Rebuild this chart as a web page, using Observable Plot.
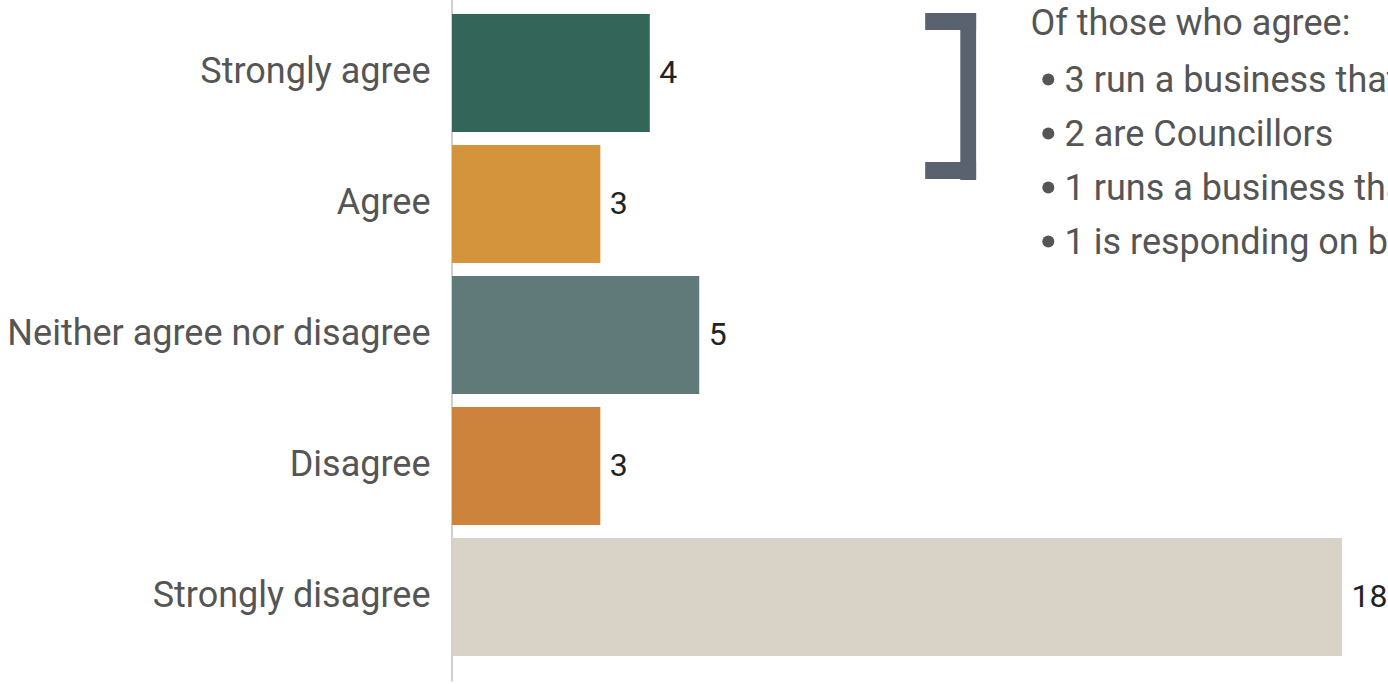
<!DOCTYPE html>
<html>
<head>
<meta charset="utf-8">
<script src="https://cdn.jsdelivr.net/npm/d3@7"></script>
<script src="https://cdn.jsdelivr.net/npm/@observablehq/plot@0.6"></script>
<style>
  html, body { margin: 0; padding: 0; background: #fff; overflow: hidden; }
  #chart svg { display: block; }
</style>
</head>
<body>
<div id="chart"></div>
<script>
// ---- data ----
const categories = ["Strongly agree", "Agree", "Neither agree nor disagree", "Disagree", "Strongly disagree"];
const counts = [4, 3, 5, 3, 18];
const barColors = ["#336658", "#d3943c", "#5f7a78", "#cd833c", "#d9d2c6"];
const noteTitle = "Of those who agree:";
const noteItems = [
  "3 run a business that",
  "2 are Councillors",
  "1 runs a business that",
  "1 is responding on behalf"
];
// annotation anchors, in data units of the x scale
const bracketX = [9.57, 10.6];
const bracketBarX = [10.28, 10.6];
const noteTitleX = 11.69;
const noteBulletX = 12.05;
const noteItemX = 12.38;

const data = categories.map((c, i) => ({category: c, count: counts[i]}));

const FONT = "Roboto, 'Helvetica Neue', Arial, sans-serif";
const GREY = "#555";
const LINE = 54; // px between note lines

const chart = Plot.plot({
  width: 1388,
  height: 684,
  marginLeft: 452,
  marginRight: 46,
  marginTop: 7.4,
  marginBottom: 20.6,
  style: {fontFamily: FONT, background: "#fff", overflow: "hidden"},
  x: {domain: [0, 18], axis: null},
  y: {domain: categories, paddingInner: 0.1, paddingOuter: 0.05, axis: null},
  color: {domain: categories, range: barColors},
  marks: [
    Plot.ruleX([0], {stroke: "#d2cece", strokeWidth: 2, dx: -0.5, insetTop: -8, insetBottom: -18}),
    Plot.barX(data, {x: "count", y: "category", fill: "category"}),
    Plot.text(data, {x: "count", y: "category", text: d => String(d.count), textAnchor: "start", dx: 9, dy: -1, fontSize: 32, fill: "#222"}),
    Plot.axisY({tickSize: 0, tickPadding: 22, fontSize: 36, color: GREY, label: null, dy: -2}),
    // bracket
    Plot.barX([{y: categories[0]}], {x1: () => bracketX[0], x2: () => bracketX[1], y: "y", fill: "#5a6270", insetTop: -1, insetBottom: 102}),
    Plot.barX([{y: categories[0]}], {x1: () => bracketBarX[0], x2: () => bracketBarX[1], y: "y", fill: "#5a6270", insetTop: -1, insetBottom: -48}),
    Plot.barX([{y: categories[1]}], {x1: () => bracketX[0], x2: () => bracketX[1], y: "y", fill: "#5a6270", insetTop: 17, insetBottom: 84}),
    // note title
    Plot.text([{y: categories[0], t: noteTitle}], {x: () => noteTitleX, y: "y", text: "t", textAnchor: "start", lineAnchor: "top", dy: -63.6, fontSize: 36, fill: GREY}),
    // note items
    Plot.text([{y: categories[0], t: noteItems.join("\n")}], {x: () => noteItemX, y: "y", text: "t", textAnchor: "start", lineAnchor: "top", lineHeight: LINE / 36, dy: -19.5, fontSize: 36, fill: GREY}),
    // bullets
    ...noteItems.map((_, i) => Plot.dot([{y: categories[0]}], {x: () => noteBulletX, y: "y", r: 6, fill: GREY, stroke: null, dy: 6 + LINE * i}))
  ]
});
document.getElementById("chart").append(chart);
</script>
</body>
</html>
